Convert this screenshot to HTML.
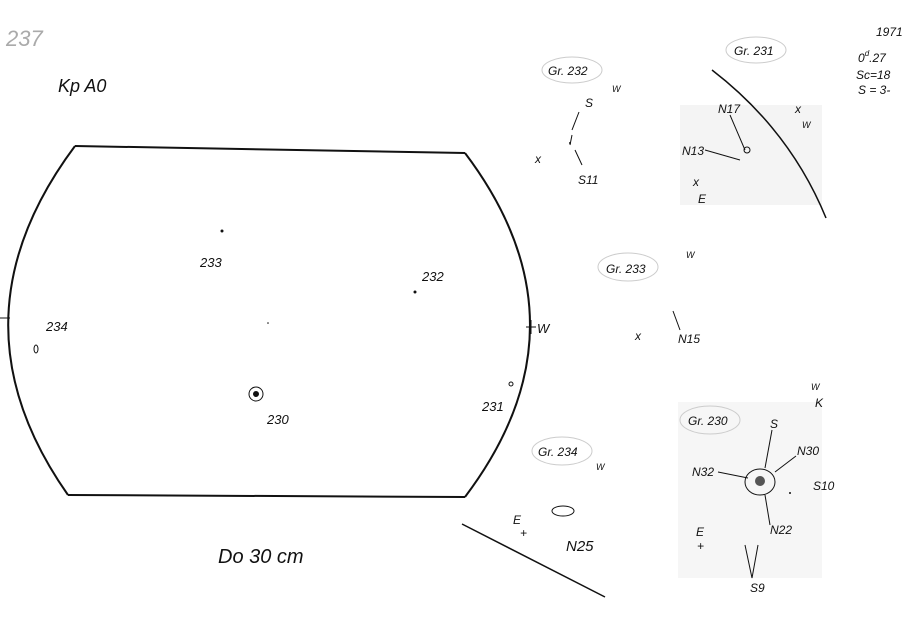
<!DOCTYPE html>
<html><head><style>
body{margin:0;background:#fff;}
svg{display:block}
text{font-family:"Liberation Sans",sans-serif;font-style:italic;fill:#111}
</style></head><body>
<svg width="903" height="635" viewBox="0 0 903 635" xmlns="http://www.w3.org/2000/svg">
<rect width="903" height="635" fill="#fff"/>
<rect x="680" y="105" width="142" height="100" fill="#f4f4f4"/>
<rect x="678" y="402" width="144" height="176" fill="#f6f6f6"/>
<text x="6" y="46" font-size="22" fill="#aaa" style="fill:#aaa">237</text>
<text x="58" y="92" font-size="18">Kp A0</text>
<g fill="none" stroke="#111" stroke-width="2">
<path d="M75 146 L465 153"/>
<path d="M68 495 L465 497"/>
<path d="M75 146 Q-55 320 68 495"/>
<path d="M465 153 Q595 325 465 497"/>
<path d="M712 70 Q790 130 826 218" stroke-width="1.5"/>
<path d="M462 524 L605 597" stroke-width="1.5"/>
</g>
<g stroke="#111" stroke-width="1" fill="none">
<line x1="0" y1="318" x2="10" y2="318"/>
<line x1="526" y1="327" x2="536" y2="327"/>
<line x1="531" y1="320" x2="531" y2="334"/>
<circle cx="256" cy="394" r="7"/>
<ellipse cx="36" cy="349" rx="2" ry="4"/>
<ellipse cx="563" cy="511" rx="11" ry="5"/>
<path d="M579 112 L572 130 M572 135 L570 145 M575 150 L582 165"/>
<path d="M673 311 L680 330"/>
<path d="M705 150 L740 160 M730 115 L745 150"/>
<ellipse cx="760" cy="482" rx="15" ry="13"/>
<path d="M718 472 L748 478 M772 430 L765 468 M775 472 L796 456 M765 495 L770 525 M745 545 L752 578 M758 545 L752 578"/>
</g>
<circle cx="256" cy="394" r="3" fill="#111"/>
<circle cx="760" cy="481" r="5" fill="#555"/>
<circle cx="747" cy="150" r="3" fill="none" stroke="#111"/>
<circle cx="222" cy="231" r="1.5" fill="#111"/>
<circle cx="415" cy="292" r="1.5" fill="#111"/>
<circle cx="511" cy="384" r="2" fill="none" stroke="#111"/>
<g font-size="13">
<text x="200" y="267">233</text>
<text x="422" y="281">232</text>
<text x="46" y="331">234</text>
<text x="537" y="333">W</text>
<text x="482" y="411">231</text>
<text x="267" y="424">230</text>
<text x="218" y="563" font-size="20">Do   30 cm</text>
</g>
<g font-size="12">
<ellipse cx="572" cy="70" rx="30" ry="13" fill="none" stroke="#ccc"/>
<text x="548" y="75">Gr. 232</text>
<ellipse cx="756" cy="50" rx="30" ry="13" fill="none" stroke="#ccc"/>
<text x="734" y="55">Gr. 231</text>
<ellipse cx="628" cy="267" rx="30" ry="14" fill="none" stroke="#ccc"/>
<text x="606" y="273">Gr. 233</text>
<ellipse cx="562" cy="451" rx="30" ry="14" fill="none" stroke="#ccc"/>
<text x="538" y="456">Gr. 234</text>
<ellipse cx="710" cy="420" rx="30" ry="14" fill="none" stroke="#ccc"/>
<text x="688" y="425">Gr. 230</text>
<text x="585" y="107">S</text><text x="612" y="92" font-size="9">W</text>
<text x="535" y="163">x</text><text x="578" y="184">S11</text>
<text x="686" y="258" font-size="9">W</text>
<text x="635" y="340">x</text><text x="678" y="343">N15</text>
<text x="596" y="470" font-size="9">W</text>
<text x="513" y="524">E</text><text x="520" y="537">+</text>
<text x="566" y="551" font-size="15">N25</text>
<text x="718" y="113">N17</text><text x="682" y="155">N13</text>
<text x="795" y="113">x</text><text x="802" y="128" font-size="9">W</text>
<text x="693" y="186">x</text><text x="698" y="203">E</text>
<text x="811" y="390" font-size="9">W</text><text x="815" y="407">K</text>
<text x="770" y="428">S</text><text x="797" y="455">N30</text>
<text x="692" y="476">N32</text><text x="813" y="490">S10</text>
<text x="770" y="534">N22</text>
<text x="696" y="536">E</text><text x="697" y="550">+</text>
<text x="750" y="592">S9</text>
<text x="876" y="36">1971</text>
<text x="858" y="62">0<tspan font-size="8" dy="-6">d</tspan><tspan dy="6">.27</tspan></text>
<text x="856" y="79">Sc=18</text>
<text x="858" y="94">S = 3-</text>
</g>
<g fill="#111"><circle cx="570" cy="143" r="1"/><circle cx="268" cy="323" r="0.8"/><circle cx="790" cy="493" r="1"/></g>
</svg>
</body></html>
